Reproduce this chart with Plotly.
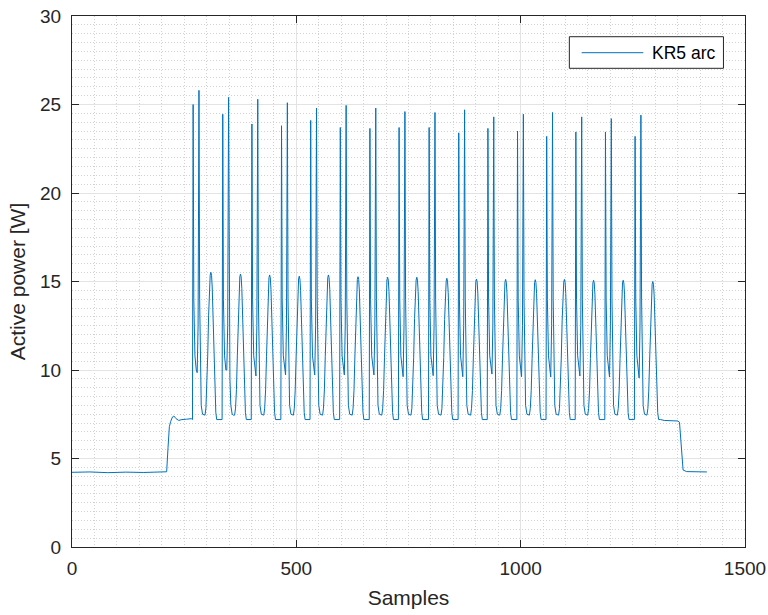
import plotly.graph_objects as go

# ---- values ----
# spike-pair cycles: sample index of first spike and the levels of each feature
cycle_start = [270, 336, 401, 467, 532, 598, 664, 729, 796, 862, 927, 993, 1058, 1123, 1189, 1255]
spike1 = [25.0, 24.45, 23.9, 23.8, 24.1, 23.7, 23.65, 23.7, 23.7, 23.4, 23.65, 23.5, 23.2, 23.45, 23.45, 23.2]
dip = [9.85, 10.0, 9.66, 9.72, 9.72, 9.72, 9.72, 9.62, 9.68, 9.62, 9.77, 9.62, 9.6, 9.66, 9.6, 9.55]
spike2 = [25.8, 25.4, 25.3, 25.1, 24.8, 24.95, 24.8, 24.6, 24.55, 24.7, 24.3, 24.45, 24.55, 24.3, 24.2, 24.4]
hump = [15.52, 15.42, 15.37, 15.3, 15.37, 15.27, 15.24, 15.24, 15.18, 15.14, 15.12, 15.1, 15.12, 15.07, 15.07, 15.0]
trough_after_spikes = 7.45
trough_after_hump = 7.2

# standby segment before the process and after it
lead_x = [0, 40, 80, 120, 160, 200, 211, 214, 217, 220, 224, 227, 232, 238, 245, 255, 266]
lead_y = [4.22, 4.24, 4.2, 4.23, 4.21, 4.22, 4.25, 5.6, 6.8, 7.1, 7.35, 7.4, 7.25, 7.15, 7.2, 7.22, 7.25]
tail_x = [1312, 1320, 1335, 1350, 1354, 1358, 1362, 1370, 1390, 1415]
tail_y = [7.2, 7.15, 7.15, 7.12, 7.05, 5.5, 4.35, 4.26, 4.24, 4.24]

# shape of one cycle (sample offsets from the first spike)
spike_off = [-1.5, 0, 1.5, 4, 7, 9, 11, 13, 14.5, 16, 18, 21, 24]
hump_center = 39.5
hump_off = [-13, -11, -9, -7, -5, -3, -1.5, 0, 1.5, 3, 5, 7, 9, 11, 13]
hump_frac = [0, 0.05, 0.18, 0.42, 0.7, 0.9, 0.98, 1, 0.98, 0.9, 0.7, 0.42, 0.18, 0.05, 0]

xs = list(lead_x)
ys = list(lead_y)
for i, t0 in enumerate(cycle_start):
    p1, d, p2, h = spike1[i], dip[i], spike2[i], hump[i]
    sv = [trough_after_hump, p1, 14.0, 10.8, 10.0, d, 12.5, p2, 14.0, 9.5, 8.0, 7.5, trough_after_spikes]
    xs += [t0 + o for o in spike_off]
    ys += sv
    for o, f in zip(hump_off, hump_frac):
        base = trough_after_spikes if o < 0 else trough_after_hump
        xs.append(t0 + hump_center + o)
        ys.append(base + f * (h - base))
xs += tail_x
ys += tail_y

fig = go.Figure()
fig.add_trace(go.Scatter(x=xs, y=ys, mode="lines", name="KR5 arc",
                         line=dict(color="#0072BD", width=1), showlegend=False))

axis_col = "#262626"
font_family = "Liberation Sans, Arial, sans-serif"

common = dict(showline=True, linecolor=axis_col, linewidth=1, mirror="ticks",
              ticks="inside", ticklen=7, tickwidth=1, tickcolor=axis_col,
              showgrid=True, gridcolor="#e3e3e3", gridwidth=1, zeroline=False,
              automargin=False,
              tickfont=dict(family=font_family, size=19, color=axis_col))

minor_style = dict(showgrid=True, gridcolor="#d2d2d2", griddash="1px,2px", ticks="")

fig.update_xaxes(range=[0, 1500], tickvals=[0, 500, 1000, 1500],
                 minor=dict(dtick=50, **minor_style),
                 title=dict(text="Samples", font=dict(family=font_family, size=21, color=axis_col), standoff=12),
                 ticklabelstandoff=4, **common)
fig.update_yaxes(range=[0, 30], tickvals=[0, 5, 10, 15, 20, 25, 30],
                 minor=dict(dtick=0.5, **minor_style),
                 title=dict(text="Active power [W]", font=dict(family=font_family, size=21, color=axis_col), standoff=8),
                 ticklabelstandoff=6, **common)

# legend box drawn in MATLAB style
fig.add_shape(type="rect", xref="paper", yref="paper", x0=0.739, x1=0.968, y0=0.9015, y1=0.961,
              line=dict(color=axis_col, width=1), fillcolor="white", layer="above")
fig.add_shape(type="line", xref="paper", yref="paper", x0=0.7573, x1=0.8489, y0=0.9309, y1=0.9309,
              line=dict(color="#0072BD", width=1), layer="above")
fig.add_annotation(xref="paper", yref="paper", x=0.8588, y=0.9309, text="KR5 arc", showarrow=False,
                   xanchor="left", yanchor="middle", font=dict(family=font_family, size=17.5, color="#000000"))

fig.update_layout(width=768, height=615, margin=dict(l=72, r=23, t=16, b=68),
                  paper_bgcolor="white", plot_bgcolor="white",
                  font=dict(family=font_family, color=axis_col))

fig.write_html("out.html")
